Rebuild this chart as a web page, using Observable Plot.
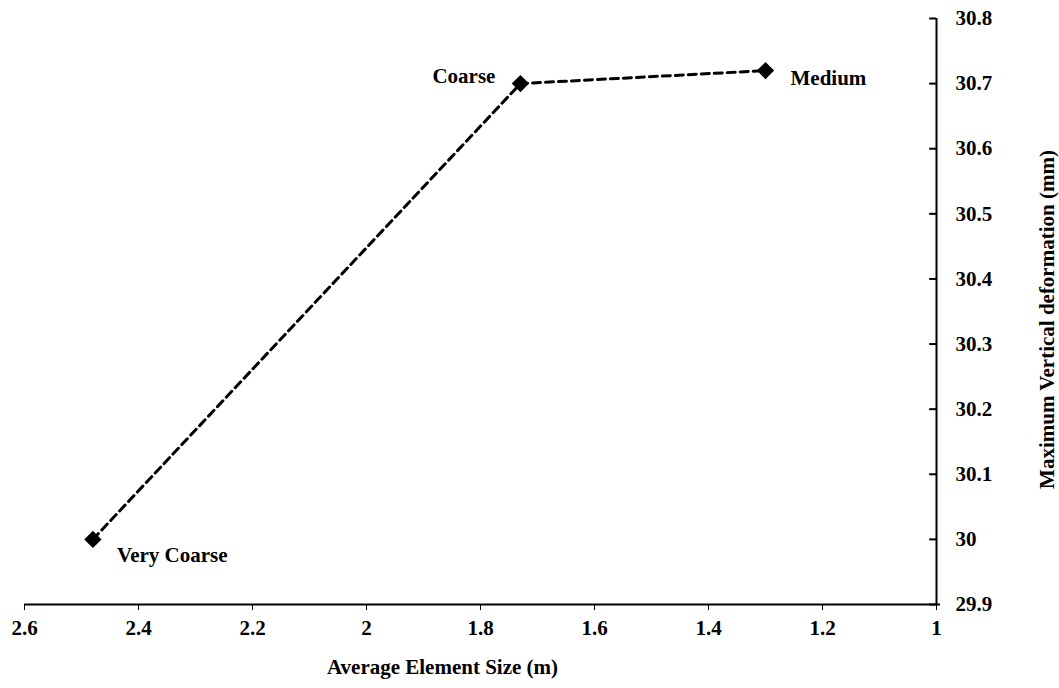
<!DOCTYPE html>
<html>
<head>
<meta charset="utf-8">
<script src="https://cdn.jsdelivr.net/npm/d3@7"></script>
<script src="https://cdn.jsdelivr.net/npm/@observablehq/plot@0.6"></script>
<style>
  html, body { margin: 0; padding: 0; background: #fff; }
</style>
</head>
<body>
<div id="chart"></div>
<script>
// Data
const elementSizes = [2.48, 1.73, 1.30];
const deformations = [30.00, 30.70, 30.72];
const meshNames = ["Very Coarse", "Coarse", "Medium"];
const xTicks = [2.6, 2.4, 2.2, 2.0, 1.8, 1.6, 1.4, 1.2, 1.0];
const yTicks = [29.9, 30.0, 30.1, 30.2, 30.3, 30.4, 30.5, 30.6, 30.7, 30.8];
const xTitle = "Average Element Size (m)";
const yTitle = "Maximum Vertical deformation (mm)";

const rows = elementSizes.map((s, i) => ({size: s, def: deformations[i], name: meshNames[i]}));
const fmt = d => String(+(+d).toFixed(1));
const font = "'Liberation Serif', 'Times New Roman', serif";

const chart = Plot.plot({
  width: 1059,
  height: 688,
  marginLeft: 24,
  marginRight: 123,
  marginTop: 18,
  marginBottom: 84,
  style: {fontFamily: font, fontSize: "21px", fontWeight: "bold", color: "#000", background: "#fff"},
  x: {domain: [2.6, 1.0], ticks: xTicks, tickFormat: fmt, tickSize: 6, tickPadding: 10, label: null},
  y: {domain: [29.9, 30.8], ticks: yTicks, tickFormat: fmt, axis: "right", tickSize: 0, tickPadding: 19, label: null},
  marks: [
    // axis lines
    Plot.ruleY([29.9], {x1: 2.6, x2: 0.993, stroke: "#000", strokeWidth: 2}),
    Plot.ruleX([1.0], {y1: 29.9, y2: 30.8, stroke: "#000", strokeWidth: 2}),
    // inward ticks on the y axis
    Plot.ruleY(yTicks, {x1: 1.0, x2: 1.012, stroke: "#000", strokeWidth: 2}),
    // series
    Plot.line(rows, {x: "size", y: "def", stroke: "#000", strokeWidth: 3, strokeDasharray: "8,5"}),
    Plot.dot(rows, {x: "size", y: "def", symbol: "diamond2", r: 7.8, fill: "#000", stroke: "none"}),
    // point labels
    Plot.text(rows, {filter: (d, i) => i === 0, x: "size", y: "def", text: "name", dx: 24, dy: 16, textAnchor: "start", fontSize: 21, fontWeight: "bold", fill: "#000"}),
    Plot.text(rows, {filter: (d, i) => i === 1, x: "size", y: "def", text: "name", dx: -25, dy: -7, textAnchor: "end", fontSize: 21, fontWeight: "bold", fill: "#000"}),
    Plot.text(rows, {filter: (d, i) => i === 2, x: "size", y: "def", text: "name", dx: 25, dy: 8, textAnchor: "start", fontSize: 21, fontWeight: "bold", fill: "#000"}),
    // axis titles
    Plot.text([xTitle], {frameAnchor: "bottom", dx: -38, dy: 69, textAnchor: "middle", fontSize: 21, fontWeight: "bold", fill: "#000"}),
    Plot.text([yTitle], {frameAnchor: "right", dx: 111, dy: 8, rotate: -90, textAnchor: "middle", fontSize: 21, fontWeight: "bold", fill: "#000"})
  ]
});

document.getElementById("chart").appendChild(chart);
</script>
</body>
</html>
